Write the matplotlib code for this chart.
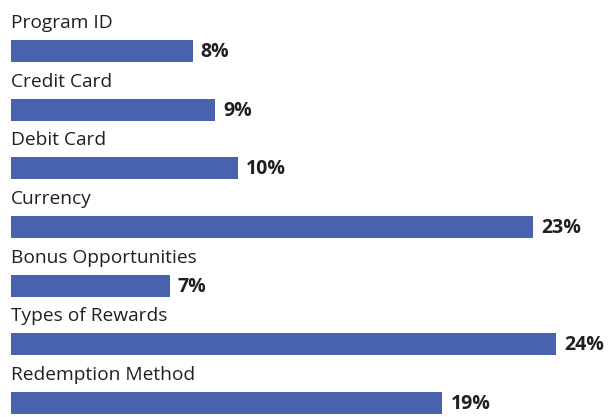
import matplotlib
matplotlib.use("Agg")
import matplotlib.pyplot as plt

categories = ["Program ID", "Credit Card", "Debit Card", "Currency",
              "Bonus Opportunities", "Types of Rewards", "Redemption Method"]
values = [8, 9, 10, 23, 7, 24, 19]
value_labels = ["8%", "9%", "10%", "23%", "7%", "24%", "19%"]

W, H = 614, 417
fig = plt.figure(figsize=(W / 100, H / 100), dpi=100)
ax = fig.add_axes([0, 0, 1, 1])

px_per_unit_x = 545 / 24.0
x0 = 11
ax.set_xlim(-x0 / px_per_unit_x, (W - x0) / px_per_unit_x)

pitch = 58.67
c0 = 51
ax.set_ylim((H - c0) / pitch, -c0 / pitch)

bar_color = "#4862AD"
text_color = "#231F20"
ys = list(range(len(categories)))
ax.barh(ys, values, height=22 / pitch, color=bar_color, left=0)

for y, cat, v, lab in zip(ys, categories, values, value_labels):
    ax.text(0, y - 23 / pitch, cat, ha="left", va="baseline",
            fontsize=13.8, color=text_color, family="Open Sans")
    ax.text(v + 8 / px_per_unit_x, y + 1 / pitch, lab, ha="left", va="center",
            fontsize=14, fontweight="bold", color=text_color, family="Open Sans")

ax.axis("off")
fig.savefig("out.png", dpi=100)
